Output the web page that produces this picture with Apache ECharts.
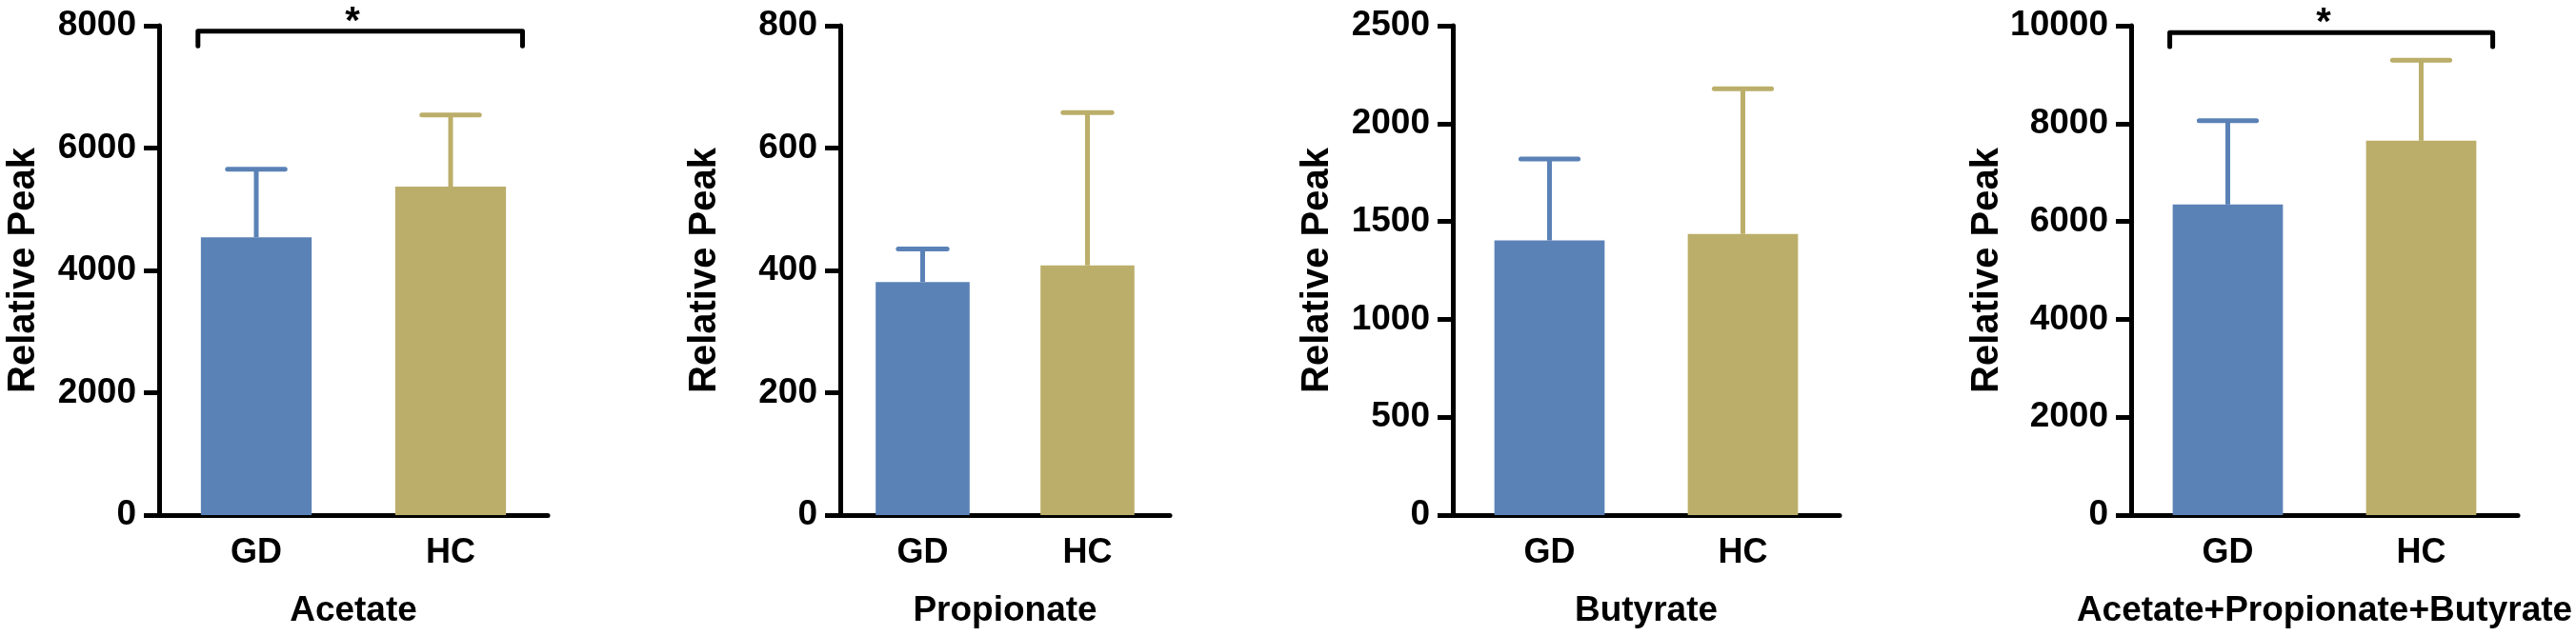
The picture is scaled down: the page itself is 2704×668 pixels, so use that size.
<!DOCTYPE html>
<html style="height: 100%">
<head>
    <meta charset="utf-8">
</head>
<body style="height: 100%; margin: 0; background: #fff">
<div id="container" style="height: 100%"></div>

<script type="text/javascript" src="https://cdn.jsdelivr.net/npm/echarts@6/dist/echarts.min.js"></script>

<script type="text/javascript">
    // groups on the x axis
    var categories = ['GD', 'HC'];
    var panelNames = ['Acetate', 'Propionate', 'Butyrate', 'Acetate+Propionate+Butyrate'];

    // mean and mean + SD for each panel
    var acetateMean = [4540, 5370];
    var acetateUpper = [5655, 6540];
    var propionateMean = [381, 408];
    var propionateUpper = [435, 658];
    var butyrateMean = [1403, 1436];
    var butyrateUpper = [1819, 2178];
    var totalMean = [6346, 7650];
    var totalUpper = [8057, 9294];

    // y axis range per panel
    var yMax = [8000, 800, 2500, 10000];
    var yInterval = [2000, 200, 500, 2000];

    // significance bracket: [from index, to index, bracket value, end of drop]
    var sigBrackets = [[0, 1, 7910, 7670], null, null, [0, 1, 9860, 9570]];

    var means = [acetateMean, propionateMean, butyrateMean, totalMean];
    var uppers = [acetateUpper, propionateUpper, butyrateUpper, totalUpper];

    var colors = ['#5b82b6', '#bbae6a'];
    var FONT = '"Liberation Sans", Arial, sans-serif';
    var BAR_RATIO = 0.57;

    var gridLefts = [167, 882, 1525, 2237];
    var gridWidths = [408, 346, 406, 406];

    var dom = document.getElementById('container');
    var myChart = echarts.init(dom);

    function errorRender(params, api) {
        var i = api.value(0);
        var top = api.coord([i, api.value(2)]);
        var base = api.coord([i, api.value(1)]);
        var bw = api.size([1, 0])[0] * BAR_RATIO;
        var capHalf = bw * 0.26;
        var color = api.visual('color');
        return {
            type: 'group',
            children: [{
                type: 'line',
                shape: {x1: top[0], y1: base[1], x2: top[0], y2: top[1]},
                style: {stroke: color, lineWidth: 5}
            }, {
                type: 'line',
                shape: {x1: top[0] - capHalf, y1: top[1], x2: top[0] + capHalf, y2: top[1]},
                style: {stroke: color, lineWidth: 5, lineCap: 'round'}
            }]
        };
    }

    function bracketRender(params, api) {
        var l = api.coord([api.value(0), api.value(2)]);
        var r = api.coord([api.value(1), api.value(2)]);
        var dropY = api.coord([api.value(0), api.value(3)])[1];
        var band = api.size([1, 0])[0];
        var x1 = l[0] - 0.30 * band;
        var x2 = r[0] + 0.37 * band;
        var y = l[1];
        return {
            type: 'group',
            children: [{
                type: 'polyline',
                shape: {points: [[x1, dropY], [x1, y], [x2, y], [x2, dropY]]},
                style: {stroke: '#000', lineWidth: 5, fill: null, lineCap: 'round', lineJoin: 'round'}
            }, {
                type: 'text',
                x: (x1 + x2) / 2 - 8,
                y: y - 9,
                style: {
                    text: '*', fill: '#000', font: 'bold 40px ' + FONT,
                    align: 'center', verticalAlign: 'middle'
                }
            }]
        };
    }

    var grid = [], xAxis = [], yAxis = [], series = [];
    for (var p = 0; p < 4; p++) {
        grid.push({left: gridLefts[p], width: gridWidths[p], top: 27, height: 514});
        xAxis.push({
            type: 'category',
            gridIndex: p,
            data: categories,
            name: panelNames[p],
            nameLocation: 'middle',
            nameGap: 82,
            nameTextStyle: {color: '#000', fontSize: 37, fontWeight: 'bold', fontFamily: FONT},
            axisLine: {lineStyle: {color: '#000', width: 5}},
            axisTick: {alignWithLabel: true, length: 16, lineStyle: {color: '#000', width: 5}},
            axisLabel: {color: '#000', fontSize: 36, fontWeight: 'bold', fontFamily: FONT, margin: 22}
        });
        yAxis.push({
            type: 'value',
            gridIndex: p,
            min: 0,
            max: yMax[p],
            interval: yInterval[p],
            name: 'Relative Peak',
            nameLocation: 'middle',
            nameGap: 122,
            nameTextStyle: {color: '#000', fontSize: 40, fontWeight: 'bold', fontFamily: FONT},
            splitLine: {show: false},
            axisLine: {show: true, lineStyle: {color: '#000', width: 5}},
            axisTick: {show: true, length: 16, lineStyle: {color: '#000', width: 5}},
            axisLabel: {
                color: '#000', fontSize: 37, fontWeight: 'bold', fontFamily: FONT, margin: 24,
                formatter: function (v) { return String(v); }
            }
        });
        series.push({
            type: 'bar',
            xAxisIndex: p,
            yAxisIndex: p,
            barWidth: (BAR_RATIO * 100) + '%',
            data: means[p].map(function (v, i) {
                return {value: v, itemStyle: {color: colors[i]}};
            })
        });
        series.push({
            type: 'custom',
            xAxisIndex: p,
            yAxisIndex: p,
            renderItem: errorRender,
            data: means[p].map(function (v, i) {
                return {value: [i, v, uppers[p][i]], itemStyle: {color: colors[i]}};
            }),
            z: 1
        });
        if (sigBrackets[p]) {
            series.push({
                type: 'custom',
                xAxisIndex: p,
                yAxisIndex: p,
                renderItem: bracketRender,
                clip: false,
                data: [sigBrackets[p]],
                z: 3
            });
        }
    }

    var option = {
        animation: false,
        backgroundColor: '#fff',
        grid: grid,
        xAxis: xAxis,
        yAxis: yAxis,
        series: series
    };

    myChart.setOption(option);
</script>
</body>
</html>
